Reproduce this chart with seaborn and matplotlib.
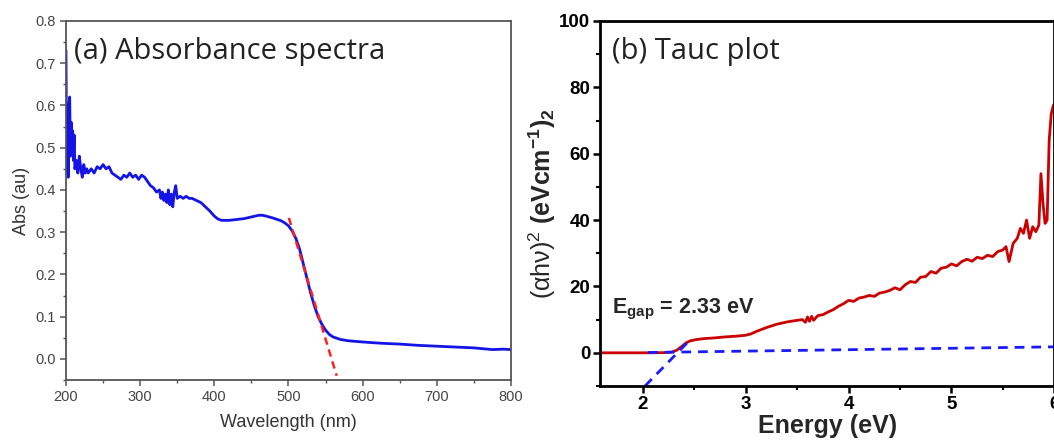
import matplotlib
matplotlib.use('Agg')
import matplotlib.pyplot as plt
import seaborn as sns
from matplotlib.ticker import MultipleLocator

# (a) Absorbance spectrum
wavelength = [200, 201, 202, 203, 204, 205, 206, 207, 208, 209, 210, 211, 212, 214, 216, 218,
              220, 222, 224, 226, 228, 230, 234, 238, 242, 246, 250, 254, 258, 262, 266, 270,
              274, 278, 282, 286, 290, 294, 298, 302, 306, 310, 314, 318, 322, 326, 328, 330,
              332, 334, 336, 338, 340, 342, 344, 346, 348, 350, 354, 358, 362, 366, 370, 376,
              382, 388, 394, 400, 405, 410, 420, 430, 440, 450, 460, 465, 470, 480, 490, 495,
              500, 505, 510, 515, 520, 525, 530, 535, 540, 545, 550, 555, 560, 570, 580, 600,
              625, 650, 675, 700, 725, 750, 775, 790, 800]
absorbance = [0.73, 0.44, 0.55, 0.43, 0.60, 0.62, 0.48, 0.56, 0.50, 0.54, 0.47, 0.53, 0.45, 0.47,
              0.44, 0.48, 0.45, 0.43, 0.46, 0.44, 0.45, 0.44, 0.45, 0.44, 0.455, 0.45, 0.46, 0.45,
              0.455, 0.44, 0.435, 0.43, 0.425, 0.435, 0.43, 0.44, 0.43, 0.435, 0.425, 0.435, 0.43,
              0.42, 0.41, 0.405, 0.395, 0.40, 0.38, 0.395, 0.375, 0.39, 0.37, 0.40, 0.365, 0.39,
              0.36, 0.395, 0.41, 0.38, 0.385, 0.38, 0.385, 0.38, 0.38, 0.375, 0.37, 0.36, 0.35,
              0.338, 0.331, 0.328, 0.328, 0.330, 0.332, 0.336, 0.340, 0.340, 0.338, 0.333, 0.327,
              0.322, 0.315, 0.303, 0.285, 0.26, 0.225, 0.19, 0.155, 0.125, 0.10, 0.082, 0.068,
              0.058, 0.052, 0.046, 0.043, 0.040, 0.037, 0.035, 0.032, 0.030, 0.028, 0.026, 0.022,
              0.023, 0.022]
edge_fit_x = [500.5, 565]
edge_fit_y = [0.334, -0.04]

# (b) Tauc plot
energy = [1.58, 1.8, 2.0, 2.2, 2.28, 2.33, 2.38, 2.42, 2.46, 2.52, 2.6, 2.7, 2.8, 2.9, 3.0, 3.05,
          3.1, 3.2, 3.3, 3.4, 3.5, 3.55, 3.58, 3.6, 3.62, 3.64, 3.66, 3.7, 3.75, 3.8, 3.85, 3.9,
          3.95, 4.0, 4.05, 4.1, 4.15, 4.2, 4.25, 4.3, 4.35, 4.4, 4.45, 4.5, 4.55, 4.6, 4.65, 4.7,
          4.75, 4.8, 4.85, 4.9, 4.95, 5.0, 5.05, 5.1, 5.15, 5.2, 5.25, 5.3, 5.35, 5.4, 5.45, 5.5,
          5.53, 5.56, 5.6, 5.64, 5.67, 5.7, 5.73, 5.76, 5.79, 5.82, 5.85, 5.87, 5.89, 5.91, 5.93,
          5.95, 5.97, 5.99, 6.0]
tauc = [0, 0, 0, 0.05, 0.2, 0.8, 2.0, 3.0, 3.6, 4.0, 4.3, 4.5, 4.8, 5.0, 5.3, 5.7,
        6.4, 7.6, 8.6, 9.3, 9.8, 10.0, 9.2, 10.8, 9.5, 11.0, 9.8, 11.2, 11.5, 12.3, 13.0, 14.0,
        14.8, 15.8, 15.5, 16.5, 16.8, 17.3, 17.0, 18.0, 18.3, 18.8, 19.6, 19.0, 20.5, 21.5, 21.2, 22.8,
        23.0, 24.5, 24.0, 25.5, 25.8, 26.8, 26.2, 27.5, 28.2, 27.6, 28.8, 28.4, 29.4, 29.0, 30.5, 31.0,
        32.0, 27.5, 33.0, 34.5, 37.5, 36.0, 40.0, 34.5, 38.0, 36.5, 38.5, 54.0, 45.0, 39.0, 40.0,
        64.0, 72.0, 74.5, 75.0]
baseline_x = [2.05, 6.0]
baseline_y = [0.1, 1.8]
tangent_x = [2.02, 2.43]
tangent_y = [-10, 3.0]

sns.set_style('ticks')
plt.rcParams['font.family'] = ['Liberation Sans', 'DejaVu Sans']
plt.rcParams['mathtext.fontset'] = 'custom'
plt.rcParams['mathtext.rm'] = 'Liberation Sans'
plt.rcParams['mathtext.it'] = 'Liberation Sans:italic'
plt.rcParams['mathtext.bf'] = 'Liberation Sans:bold'

fig = plt.figure(figsize=(10.54, 4.42), dpi=100)
ax1 = fig.add_axes([0.0626, 0.1403, 0.4222, 0.8122])
ax2 = fig.add_axes([0.5693, 0.1267, 0.4310, 0.8258])

# ---- panel (a)
sns.lineplot(x=wavelength, y=absorbance, ax=ax1, color='#1414e6', linewidth=2.0, sort=False)
sns.lineplot(x=edge_fit_x, y=edge_fit_y, ax=ax1, color='#ff2020', linewidth=1.8,
             linestyle=(0, (3, 2)))
ax1.set_xlim(200, 800)
ax1.set_ylim(-0.05, 0.8)
ax1.xaxis.set_major_locator(MultipleLocator(100))
ax1.xaxis.set_minor_locator(MultipleLocator(50))
ax1.yaxis.set_major_locator(MultipleLocator(0.1))
ax1.yaxis.set_minor_locator(MultipleLocator(0.05))
ax1.set_yticks([0.0, 0.1, 0.2, 0.3, 0.4, 0.5, 0.6, 0.7, 0.8])
ax1.set_yticklabels(['0.0', '0.1', '0.2', '0.3', '0.4', '0.5', '0.6', '0.7', '0.8'])
for s in ax1.spines.values():
    s.set_color('#555555')
    s.set_linewidth(1.3)
ax1.tick_params(which='major', direction='out', length=4, width=1.1, colors='#555555',
                labelcolor='#444444', labelsize=10.5)
ax1.tick_params(which='minor', direction='out', length=2.5, width=1, colors='#555555')
ax1.set_xlabel('Wavelength (nm)', fontsize=13, color='#333333', labelpad=7)
ax1.set_ylabel('Abs (au)', fontsize=13, color='#333333', labelpad=4)
ax1.text(0.018, 0.955, '(a) Absorbance spectra', transform=ax1.transAxes, ha='left', va='top',
         fontsize=21, color='#222222', family=['Open Sans', 'DejaVu Sans'])

# ---- panel (b)
sns.lineplot(x=energy, y=tauc, ax=ax2, color='#cc0000', linewidth=2.0, sort=False)
sns.lineplot(x=baseline_x, y=baseline_y, ax=ax2, color='#1a1aff', linewidth=2.0,
             linestyle=(0, (3.5, 2.5)))
sns.lineplot(x=tangent_x, y=tangent_y, ax=ax2, color='#1a1aff', linewidth=2.0,
             linestyle=(0, (3.5, 2.5)))
ax2.set_xlim(1.583, 6.0)
ax2.set_ylim(-10, 100)
ax2.xaxis.set_major_locator(MultipleLocator(1))
ax2.xaxis.set_minor_locator(MultipleLocator(0.5))
ax2.yaxis.set_major_locator(MultipleLocator(20))
ax2.yaxis.set_minor_locator(MultipleLocator(10))
ax2.set_yticks([0, 20, 40, 60, 80, 100])
for s in ax2.spines.values():
    s.set_color('black')
    s.set_linewidth(2.0)
ax2.tick_params(which='major', direction='out', length=5, width=1.8, colors='black',
                labelsize=13.5, pad=2)
ax2.tick_params(which='minor', direction='out', length=3, width=1.5, colors='black')
for lab in ax2.get_xticklabels() + ax2.get_yticklabels():
    lab.set_fontweight('bold')
ax2.set_xlabel('Energy (eV)', fontsize=18, fontweight='bold', labelpad=1)
ax2.set_ylabel(r'$\mathrm{(\alpha h\nu)^2}$ $\mathbf{(eVcm^{-1})_2}$', fontsize=18, labelpad=1)
ax2.text(0.026, 0.955, '(b) Tauc plot', transform=ax2.transAxes, ha='left', va='top',
         fontsize=21, color='#222222', family=['Open Sans', 'DejaVu Sans'])
ax2.text(1.7, 13, r'$\mathbf{E}_{\mathbf{gap}}$ = 2.33 eV', fontsize=15.5, fontweight='bold',
         ha='left', va='center')

fig.savefig('out.png', dpi=100)
